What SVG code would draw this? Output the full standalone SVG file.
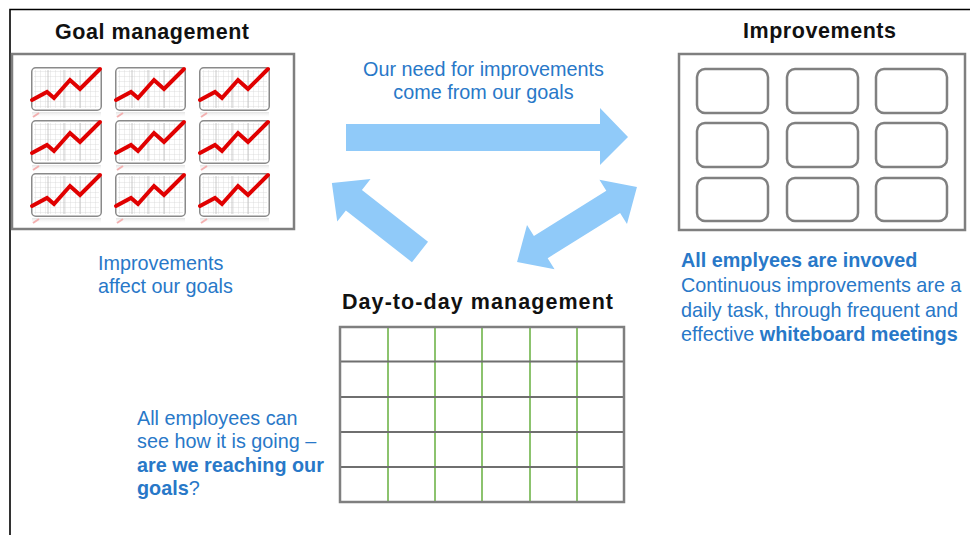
<svg xmlns="http://www.w3.org/2000/svg" width="970" height="535" viewBox="0 0 970 535">
  <style>
    .title { font-family: "Liberation Sans", Arial, sans-serif; font-weight: bold; font-size: 21.5px; fill: #111; }
    .blue { font-family: "Liberation Sans", Arial, sans-serif; font-size: 19.8px; fill: #2878C8; }
    .b { font-weight: bold; }
    .box { fill: #fff; stroke: #7f7f7f; stroke-width: 2.5; }
    .card { fill: #fff; stroke: #808080; stroke-width: 2.5; }
    .hline { stroke: #6f6f6f; stroke-width: 2; }
    .vline { stroke: #8cc36e; stroke-width: 2; }
    .arrow { fill: #90CAF9; }
    .frame { stroke: #000; stroke-width: 1.6; fill: none; }
  </style>
  <defs>
    <pattern id="grid" width="5" height="5" patternUnits="userSpaceOnUse">
      <path d="M5 0 V5 M0 5 H5" stroke="#d6d6d6" stroke-width="0.8" fill="none"/>
    </pattern>
    <linearGradient id="refl" x1="0" y1="0" x2="0" y2="1">
      <stop offset="0" stop-color="#e0e0e0" stop-opacity="0.9"/>
      <stop offset="1" stop-color="#ffffff" stop-opacity="0"/>
    </linearGradient>
    <g id="chart">
      <rect x="1" y="45" width="69" height="6" fill="url(#refl)"/>
      <path d="M2 50 L8 46" stroke="#f3b0b0" stroke-width="2" fill="none"/>
      <rect x="0.75" y="0.75" width="69.5" height="42.5" rx="4" fill="#fff" stroke="#8a8a8a" stroke-width="1.5"/>
      <rect x="3" y="3" width="65" height="38" fill="url(#grid)"/>
      <path d="M17 3 V41 M33 3 V41 M49 3 V41" stroke="#bdbdbd" stroke-width="0.8"/>
      <polyline points="1,33 16,25 23,31 39,13 49,22 69,2" fill="none" stroke="#e00000" stroke-width="4" stroke-linejoin="miter" stroke-linecap="round"/>
    </g>
  </defs>

  <rect width="970" height="535" fill="#fff"/>
  <path class="frame" d="M10 535 V9.5 H970"/>

  <g id="goal-management">
    <text class="title" x="152" y="39" text-anchor="middle" textLength="194" lengthAdjust="spacing">Goal management</text>
    <rect class="box" x="12" y="54" width="282" height="175"/>
    <use href="#chart" x="31" y="67"/>
    <use href="#chart" x="115" y="67"/>
    <use href="#chart" x="199" y="67"/>
    <use href="#chart" x="31" y="120"/>
    <use href="#chart" x="115" y="120"/>
    <use href="#chart" x="199" y="120"/>
    <use href="#chart" x="31" y="173"/>
    <use href="#chart" x="115" y="173"/>
    <use href="#chart" x="199" y="173"/>
  </g>

  <g id="improvements">
    <text class="title" x="819.5" y="38" text-anchor="middle" textLength="153" lengthAdjust="spacing">Improvements</text>
    <rect class="box" x="679" y="54" width="286" height="176"/>
    <rect class="card" x="697" y="69" width="71" height="44" rx="8"/>
    <rect class="card" x="787" y="69" width="71" height="44" rx="8"/>
    <rect class="card" x="876" y="69" width="71" height="44" rx="8"/>
    <rect class="card" x="697" y="123" width="71" height="44" rx="8"/>
    <rect class="card" x="787" y="123" width="71" height="44" rx="8"/>
    <rect class="card" x="876" y="123" width="71" height="44" rx="8"/>
    <rect class="card" x="697" y="178" width="71" height="43" rx="8"/>
    <rect class="card" x="787" y="178" width="71" height="43" rx="8"/>
    <rect class="card" x="876" y="178" width="71" height="43" rx="8"/>
  </g>

  <g id="day-to-day-management">
    <text class="title" x="477.5" y="309" text-anchor="middle" textLength="271" lengthAdjust="spacing">Day-to-day management</text>
    <rect x="340" y="327" width="284" height="175" fill="#fff"/>
    <path class="vline" d="M388 327 V502 M435 327 V502 M482 327 V502 M530 327 V502 M577 327 V502"/>
    <path class="hline" d="M340 361.5 H624 M340 397 H624 M340 432 H624 M340 467 H624"/>
    <rect x="340" y="327" width="284" height="175" fill="none" stroke="#7f7f7f" stroke-width="2.5"/>
  </g>

  <g id="connectors">
    <polygon class="arrow" points="346,124 600,124 600,108 628,137 600,165 600,151 346,151"/>
    <polygon class="arrow" transform="translate(420,252) rotate(218.1)" points="0,-13 84,-13 84,-27 112,0 84,27 84,13 0,13"/>
    <polygon class="arrow" transform="translate(577,224.5) rotate(-32)" points="-70.7,0 -42.7,-26 -42.7,-13 42.7,-13 42.7,-26 70.7,0 42.7,26 42.7,13 -42.7,13 -42.7,26"/>
  </g>

  <g id="label-need">
    <text class="blue" x="483.5" y="76" text-anchor="middle">Our need for improvements</text>
    <text class="blue" x="483.5" y="99" text-anchor="middle">come from our goals</text>
  </g>

  <g id="label-affect">
    <text class="blue" x="98" y="270">Improvements</text>
    <text class="blue" x="98" y="293">affect our goals</text>
  </g>

  <g id="label-employees">
    <text class="blue" x="137" y="425">All employees can</text>
    <text class="blue" x="137" y="448">see how it is going –</text>
    <text class="blue b" x="137" y="472">are we reaching our</text>
    <text class="blue" x="137" y="495"><tspan class="b">goals</tspan>?</text>
  </g>

  <g id="label-involved">
    <text class="blue b" x="681" y="267">All emplyees are invoved</text>
    <text class="blue" x="681" y="292">Continuous improvements are a</text>
    <text class="blue" x="681" y="317">daily task, through frequent and</text>
    <text class="blue" x="681" y="341">effective <tspan class="b">whiteboard meetings</tspan></text>
  </g>
</svg>
